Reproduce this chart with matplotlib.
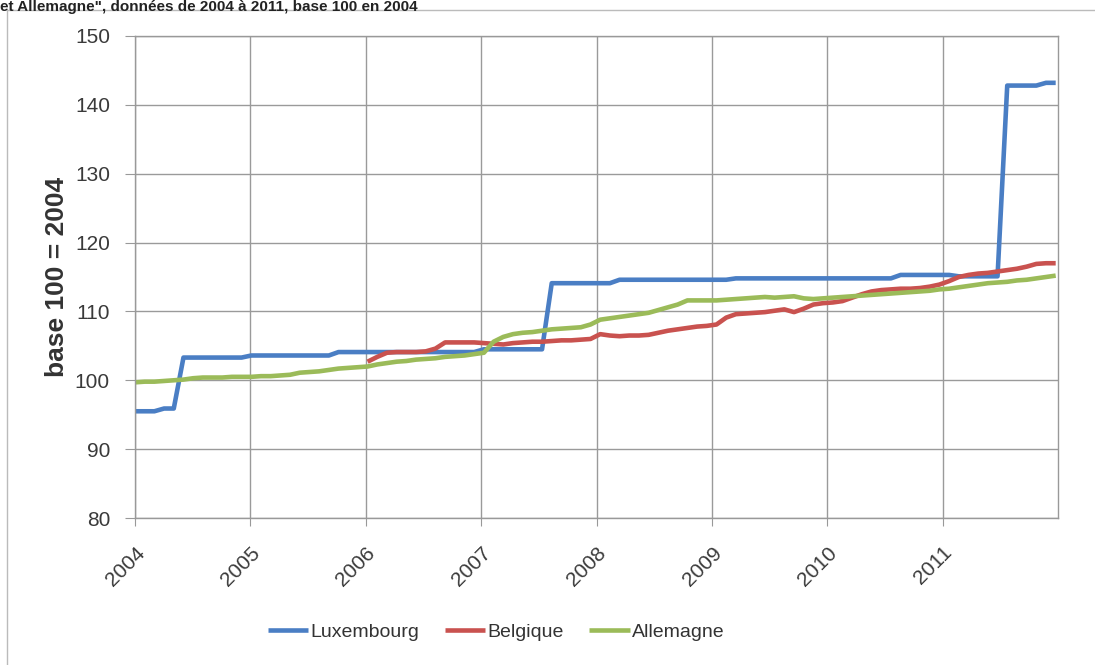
import matplotlib
matplotlib.use("Agg")
import matplotlib.pyplot as plt
import numpy as np

plt.rcParams['font.family'] = ['Liberation Sans', 'DejaVu Sans']

years = [2004, 2005, 2006, 2007, 2008, 2009, 2010, 2011]
series_names = ["Luxembourg", "Belgique", "Allemagne"]

luxembourg = ([95.5] * 3 + [95.9] * 2 + [103.3] * 7 + [103.6] * 9 + [104.1] * 15 +
              [104.5] * 7 + [114.1] * 7 + [114.6] * 12 + [114.8] * 17 + [115.3] * 6 +
              [115.1] * 5 + [142.8] * 4 + [143.2] * 2)

belgique = [np.nan] * 24 + [
    102.7, 103.4, 104.0, 104.1, 104.1, 104.1, 104.2, 104.6, 105.5, 105.5, 105.5, 105.5,
    105.4, 105.3, 105.2, 105.4, 105.5, 105.6, 105.6, 105.7, 105.8, 105.8, 105.9, 106.0,
    106.7, 106.5, 106.4, 106.5, 106.5, 106.6, 106.9, 107.2, 107.4, 107.6, 107.8, 107.9,
    108.1, 109.1, 109.6, 109.7, 109.8, 109.9, 110.1, 110.3, 109.9, 110.4, 111.0, 111.2,
    111.3, 111.5, 112.0, 112.5, 112.9, 113.1, 113.2, 113.3, 113.3, 113.4, 113.6, 113.9,
    114.4, 115.0, 115.3, 115.5, 115.6, 115.8, 116.0, 116.2, 116.5, 116.9, 117.0, 117.0]

allemagne = [
    99.7, 99.8, 99.8, 99.9, 100.0, 100.1, 100.3, 100.4, 100.4, 100.4, 100.5, 100.5,
    100.5, 100.6, 100.6, 100.7, 100.8, 101.1, 101.2, 101.3, 101.5, 101.7, 101.8, 101.9,
    102.0, 102.3, 102.5, 102.7, 102.8, 103.0, 103.1, 103.2, 103.4, 103.5, 103.6, 103.8,
    104.0, 105.6, 106.3, 106.7, 106.9, 107.0, 107.2, 107.4, 107.5, 107.6, 107.7, 108.1,
    108.8, 109.0, 109.2, 109.4, 109.6, 109.8, 110.2, 110.6, 111.0, 111.6, 111.6, 111.6,
    111.6, 111.7, 111.8, 111.9, 112.0, 112.1, 112.0, 112.1, 112.2, 111.9, 111.8, 111.9,
    112.0, 112.1, 112.2, 112.3, 112.4, 112.5, 112.6, 112.7, 112.8, 112.9, 113.0, 113.2,
    113.3, 113.5, 113.7, 113.9, 114.1, 114.2, 114.3, 114.5, 114.6, 114.8, 115.0, 115.2]

colors = ["#4A7EC4", "#C9524F", "#9BBB59"]

n = len(allemagne)
x = 2004 + np.arange(n) * (7.98 / (n - 1))

fig = plt.figure(figsize=(10.95, 6.65), dpi=100)
fig.patch.set_facecolor("white")
ax = fig.add_axes([135 / 1095, 1 - 518 / 665, (1058 - 135) / 1095, (518 - 36) / 665])

for vals, name, c in zip([luxembourg, belgique, allemagne], series_names, colors):
    ax.plot(x, vals, color=c, lw=3.3, label=name, solid_capstyle="butt", solid_joinstyle="round")

ax.set_xlim(2004, 2012)
ax.set_ylim(80, 150)
ax.set_yticks(np.arange(80, 151, 10))
ax.set_xticks(years)
ax.set_xticklabels([str(y) for y in years], rotation=45, ha="right", rotation_mode="anchor",
                   fontsize=15, color="#3a3a3a")
ax.tick_params(axis="y", labelsize=15, labelcolor="#3a3a3a", length=7, color="#999999", pad=11)
ax.tick_params(axis="x", length=6, color="#999999", pad=12)
ax.grid(True, color="#9a9a9a", lw=1.0)
ax.set_axisbelow(True)
for s in ax.spines.values():
    s.set_color("#999999")
    s.set_linewidth(1.0)

ax.set_ylabel("base 100 = 2004", fontsize=19, fontweight="bold", color="#333333", labelpad=4)

leg = fig.legend(loc="center", bbox_to_anchor=(0.453, 1 - 632 / 665), ncol=3, frameon=False,
                 fontsize=14, handlelength=2.1, handletextpad=0.1, columnspacing=1.3)
for t in leg.get_texts():
    t.set_color("#333333")

# outer chart border
fig.add_artist(plt.Rectangle((7 / 1095, -0.01), 1.1, 1 - 10 / 665 + 0.01,
                             transform=fig.transFigure, fill=False, ec="#bbbbbb", lw=1.0))

fig.text(0.0, 1.0, 'et Allemagne", données de 2004 à 2011, base 100 en 2004',
         fontsize=11, fontweight="bold", color="#222222", ha="left", va="top")

fig.savefig("out.png", dpi=100)
